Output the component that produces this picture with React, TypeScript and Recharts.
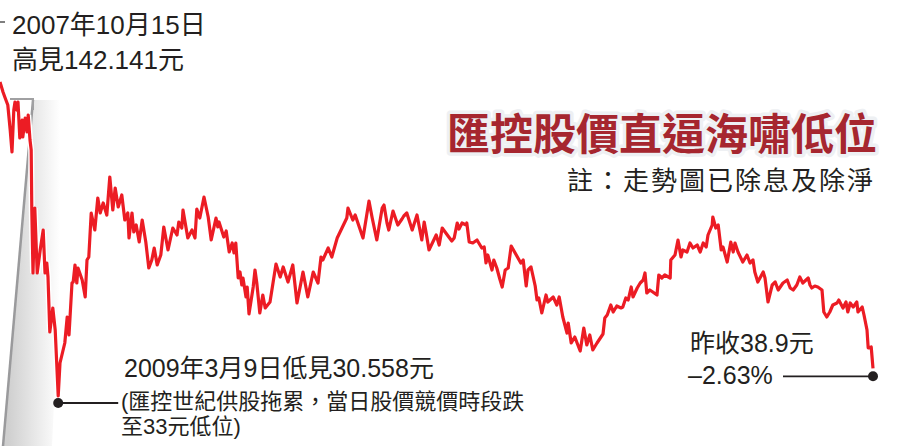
import { LineChart, Line, XAxis, YAxis, ReferenceDot } from 'recharts';

// months since mid-2008
const months = [
  0, 0.5, 0.8, 1.3, 1.7, 2.0, 2.3, 2.5, 2.8, 3.0, 3.3, 3.7, 3.8, 4.2, 4.5, 4.7, 5.0, 5.2, 5.3, 5.5,
  5.8, 6.2, 6.7, 7.2, 7.5, 7.8, 8.0, 8.3, 8.8, 9.2, 9.7, 10.0, 10.8, 11.2, 11.5, 12.0, 12.2, 12.5, 12.8, 13.0,
  13.7, 14.2, 14.5, 14.8, 15.2, 15.8, 16.3, 16.7, 17.2, 17.8, 18.3, 18.8, 19.2, 19.7, 20.3, 20.8, 21.3, 21.5, 22.0, 22.3,
  22.7, 23.2, 23.7, 24.3, 24.8, 25.3, 25.7, 26.2, 26.8, 27.3, 28.0, 28.8, 29.5, 29.8, 30.3, 30.5, 31.3, 32.0, 32.5, 32.8,
  33.3, 34.0, 34.7, 35.2, 36.0, 36.3, 36.5, 37.3, 37.7, 38.2, 38.7, 39.0, 39.3, 39.7, 40.0, 40.3, 40.5, 41.0, 41.2, 41.5,
  42.2, 42.5, 42.8, 43.3, 43.8, 44.2, 45.0, 46.0, 46.7, 47.2, 48.0, 48.8, 49.5, 50.5, 51.3, 52.2, 53.0, 53.5, 53.8, 54.7,
  55.3, 56.2, 57.0, 57.8, 58.0, 58.8, 59.2, 60.5, 61.5, 62.0, 62.8, 63.7, 64.0, 64.5, 64.8, 65.5, 66.3, 67.0, 67.3, 67.8,
  68.7, 69.5, 70.3, 70.7, 71.0, 71.5, 72.7, 73.2, 73.7, 74.8, 75.3, 75.7, 76.2, 76.5, 77.0, 77.7, 77.8, 78.2, 78.8, 79.5,
  80.3, 80.7, 81.0, 81.3, 82.0, 82.3, 82.8, 83.3, 83.7, 84.2, 84.7, 85.2, 86.8, 87.2, 87.7, 88.0, 88.5, 89.2, 89.5, 89.8,
  90.3, 91.0, 91.3, 92.2, 92.8, 93.2, 93.8, 94.5, 94.7, 95.2, 95.8, 96.7, 97.3, 97.8, 98.3, 98.8, 99.5, 100.5, 100.8, 101.2,
  101.8, 102.2, 102.8, 103.5, 103.8, 104.3, 104.7, 105.2, 105.5, 106.2, 106.7, 107.2, 107.5, 107.8, 108.3, 108.8, 109.5, 109.8, 110.3, 110.8,
  111.7, 111.8, 112.5, 113.0, 113.5, 113.8, 114.5, 115.0, 115.5, 116.2, 116.7, 117.2, 117.7, 118.0, 118.7, 118.8, 119.3, 119.7, 120.2, 120.5,
  121.2, 121.8, 122.2, 122.5, 123.0, 123.8, 124.5, 125.0, 125.5, 125.8, 126.3, 127.2, 127.5, 128.0, 128.7, 129.2, 129.7, 130.5, 131.2, 131.7,
  132.2, 132.8, 133.3, 133.8, 134.7, 135.0, 135.3, 135.8, 136.3, 137.0, 137.3, 137.8, 138.3, 138.8, 139.5, 139.8, 140.5, 141.0, 141.3, 141.7,
  142.2, 142.8, 143.0, 143.7, 144.0, 144.5, 144.7, 145.2, 145.5,
];

// adjusted share price (HK$)
const prices = [
  124.8, 121.8, 120.3, 117.9, 110.4, 103.8, 116.4, 118.8, 116.4, 118.8, 108.0, 113.4, 108.3, 114.0, 109.8, 114.9, 107.4, 104.4, 86.4, 67.5,
  87.0, 67.5, 74.4, 80.4, 67.5, 70.5, 66.3, 49.8, 57.0, 50.4, 30.6, 40.5, 46.5, 54.3, 48.9, 64.5, 64.8, 69.9, 64.5, 69.0,
  65.4, 60.3, 71.4, 72.3, 85.5, 80.4, 90.0, 85.5, 88.5, 84.9, 96.3, 86.4, 93.0, 87.3, 90.9, 83.4, 85.5, 78.0, 85.5, 79.8,
  81.9, 76.8, 83.4, 76.8, 69.0, 71.4, 75.0, 69.9, 72.9, 81.3, 74.4, 81.0, 78.9, 82.8, 81.0, 86.4, 78.0, 80.4, 78.0, 86.7,
  84.0, 90.3, 84.3, 77.4, 84.0, 81.3, 82.8, 78.3, 80.1, 73.8, 76.5, 73.5, 76.5, 66.0, 67.8, 63.9, 66.0, 60.3, 63.3, 55.2,
  63.3, 68.4, 64.5, 55.5, 60.9, 57.0, 58.8, 70.2, 66.3, 69.3, 64.8, 69.9, 58.5, 67.8, 60.3, 67.8, 64.5, 72.3, 71.4, 75.0,
  72.3, 78.0, 81.0, 84.0, 87.0, 83.4, 84.9, 78.0, 89.1, 84.3, 77.4, 87.0, 87.9, 82.5, 80.4, 86.1, 81.9, 83.7, 84.6, 85.5,
  80.4, 84.9, 77.4, 82.8, 79.8, 74.4, 78.9, 75.9, 81.0, 78.3, 77.1, 78.0, 82.5, 80.7, 82.5, 81.9, 82.5, 76.8, 76.5, 77.4,
  75.0, 75.3, 70.5, 72.9, 68.4, 71.4, 69.0, 65.7, 63.3, 68.4, 69.0, 75.6, 70.5, 71.4, 63.6, 68.4, 69.3, 63.6, 59.4, 60.0,
  55.5, 60.9, 58.8, 60.3, 57.9, 60.3, 54.3, 49.5, 52.5, 46.5, 48.3, 44.1, 51.0, 45.9, 48.9, 44.4, 46.5, 49.2, 54.0, 54.9,
  57.9, 55.8, 57.6, 57.0, 57.3, 60.0, 59.4, 63.3, 60.3, 63.0, 64.5, 65.4, 67.5, 61.5, 62.4, 61.8, 60.9, 66.9, 66.0, 66.9,
  66.0, 71.4, 72.9, 77.4, 72.3, 74.4, 73.8, 76.5, 75.0, 75.9, 73.8, 76.5, 75.3, 78.9, 81.9, 84.3, 81.0, 81.9, 74.4, 75.3,
  70.8, 76.8, 73.8, 76.5, 73.8, 70.8, 72.9, 70.5, 71.4, 67.8, 64.8, 67.8, 66.0, 58.8, 63.9, 64.8, 62.4, 64.5, 65.4, 63.0,
  62.4, 63.9, 66.3, 64.5, 66.0, 63.9, 63.0, 63.6, 63.3, 62.4, 55.8, 54.3, 55.8, 57.9, 58.5, 59.4, 57.0, 58.8, 55.8, 58.5,
  57.3, 58.8, 55.8, 57.3, 54.9, 50.4, 45.0, 45.3, 38.9,
];

const data = months.map((m, i) => ({ m, price: prices[i] }));

const LOW_MONTH = 9.7;
const LOW_PRICE = 30.6;
const LAST_MONTH = 145.5;
const LAST_PRICE = 38.9;

const W = 899;
const H = 446;
const FONT = '"Liberation Sans", Arial, "Noto Sans CJK TC", sans-serif';
const INK = '#231f20';

// dot a little under the line end, with a leader line to the label
const leaderDot = (len: number, dy: number) => (props: any) => {
  const { cx, cy } = props;
  const y = cy + dy;
  return (
    <g>
      <line x1={cx} y1={y} x2={cx + len} y2={y} stroke={INK} strokeWidth={1.8} />
      <circle cx={cx} cy={y} r={5} fill={INK} />
    </g>
  );
};

export default function App() {
  return (
    <div style={{ position: 'absolute', left: 0, top: 0, width: W, height: H, background: '#fff', fontFamily: FONT }}>
      {/* fold / magnifier shadow at the left edge */}
      <svg width={W} height={H} style={{ position: 'absolute', left: 0, top: 0 }}>
        <defs>
          <linearGradient id="fold" gradientUnits="userSpaceOnUse" x1={8} y1={0} x2={60} y2={0}>
            <stop offset="0" stopColor="#cfcfcf" />
            <stop offset="1" stopColor="#ffffff" />
          </linearGradient>
        </defs>
        <polygon points="33,100 68,100 52,446 3,446" fill="url(#fold)" />
        <line x1={33} y1={100} x2={3} y2={446} stroke="#9a9a9c" strokeWidth={2.5} />
        <polyline points="10,99 33,99 33,110" fill="none" stroke="#a0a0a2" strokeWidth={2} />
        <line x1={0} y1={22} x2={5} y2={22} stroke="#555" strokeWidth={1.5} />
      </svg>

      <div style={{ position: 'absolute', left: 0, top: 0 }}>
        <LineChart width={W} height={H} data={data} margin={{ top: 0, right: 0, bottom: 0, left: 0 }}>
          <XAxis dataKey="m" type="number" domain={[0, W / 6]} hide />
          <YAxis type="number" domain={[15.6, 149.4]} hide />
          <Line
            dataKey="price"
            type="linear"
            stroke="#ffffff"
            strokeWidth={6}
            dot={false}
            activeDot={false}
            isAnimationActive={false}
          />
          <Line
            dataKey="price"
            type="linear"
            stroke="#ec1c24"
            strokeWidth={3.2}
            strokeLinejoin="round"
            dot={false}
            activeDot={false}
            isAnimationActive={false}
          />
          <ReferenceDot x={LOW_MONTH} y={LOW_PRICE} r={5} shape={leaderDot(60, 7)} />
          <ReferenceDot x={LAST_MONTH} y={LAST_PRICE} r={5} shape={leaderDot(-90, 8)} />
        </LineChart>
      </div>

      <svg width={W} height={H} style={{ position: 'absolute', left: 0, top: 0, pointerEvents: 'none' }}>
        <g fontFamily={FONT} fill={INK}>
          <text x={12} y={34} fontSize={26}>2007年10月15日</text>
          <text x={12} y={69} fontSize={26}>高見142.141元</text>

          <text
            x={877}
            y={150}
            fontSize={43}
            fontWeight={700}
            textAnchor="end"
            fill="#a6262f"
            stroke="#eef0f3"
            strokeWidth={7}
            strokeLinejoin="round"
            style={{ paintOrder: 'stroke' }}
          >
            匯控股價直逼海嘯低位
          </text>
          <text x={567} y={190} fontSize={26} letterSpacing={2}>註：走勢圖已除息及除淨</text>

          <text x={124} y={377} fontSize={25}>2009年3月9日低見30.558元</text>
          <text x={121} y={409} fontSize={22}>(匯控世紀供股拖累，當日股價競價時段跌</text>
          <text x={121} y={434} fontSize={22}>至33元低位)</text>

          <text x={690} y={352} fontSize={25}>昨收38.9元</text>
          <text x={688} y={384} fontSize={25}>–2.63%</text>
        </g>
      </svg>
    </div>
  );
}
